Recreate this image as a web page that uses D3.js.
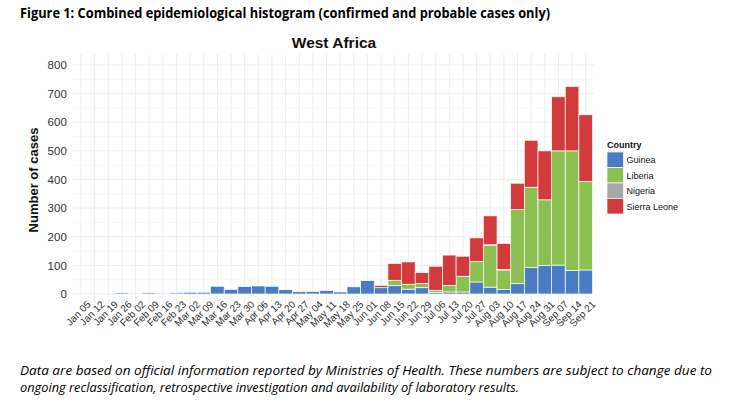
<!DOCTYPE html>
<html><head><meta charset="utf-8">
<script src="https://cdn.jsdelivr.net/npm/d3@7"></script>
<style>
html,body{margin:0;padding:0;background:#fff;}
svg{display:block;}
</style></head>
<body>
<svg id="chart" width="733" height="402"></svg>
<script>
const weeks = ["Jan 05","Jan 12","Jan 19","Jan 26","Feb 02","Feb 09","Feb 16","Feb 23","Mar 02","Mar 09","Mar 16","Mar 23","Mar 30","Apr 06","Apr 13","Apr 20","Apr 27","May 04","May 11","May 18","May 25","Jun 01","Jun 08","Jun 15","Jun 22","Jun 29","Jul 06","Jul 13","Jul 20","Jul 27","Aug 03","Aug 10","Aug 17","Aug 24","Aug 31","Sep 07","Sep 14","Sep 21"];
const countries = ["Guinea","Liberia","Nigeria","Sierra Leone"];
const guinea      = [1,1,0,4,3,4,3,4,6,6,27,16,26,28,27,15,8,9,12,7,25,47,22,29,17,22,5,7,7,42,24,16,36,92,99,101,82,84];
const liberia     = [0,0,0,0,0,0,0,0,0,0,0,0,0,0,0,0,0,0,0,0,0,2,0,19,17,15,8,23,54,72,147,68,259,281,230,399,418,309];
const nigeria     = [0,0,0,0,0,0,0,0,0,0,0,0,0,0,0,0,0,0,0,0,0,0,0,0,0,0,0,0,1,0,1,2,0,0,0,0,0,0];
const sierraLeone = [0,0,0,0,0,0,0,0,0,0,0,0,0,0,0,0,0,0,0,0,0,0,8,59,78,38,84,106,70,82,101,91,92,164,171,189,225,233];
const yTicks = [0,100,200,300,400,500,600,700,800];
const colors = ["#4a7cc4","#8cc152","#a8a8a8","#d33a3c"];

const rows = weeks.map((w,i)=>({week:w,"Guinea":guinea[i],"Liberia":liberia[i],"Nigeria":nigeria[i],"Sierra Leone":sierraLeone[i]}));

const svg = d3.select("#chart");
const panel = {left:72.8, right:593.9, top:54, bottom:305.5};

const x = d3.scaleBand().domain(weeks).range([panel.left,panel.right]).paddingInner(0).paddingOuter(0.1);
const y = d3.scaleLinear().domain([0,800]).range([294,65]);
const color = d3.scaleOrdinal().domain(countries).range(colors);

// gridlines
const g = svg.append("g");
d3.range(50,800,100).forEach(v=>{
  g.append("line").attr("x1",panel.left).attr("x2",panel.right).attr("y1",y(v)).attr("y2",y(v))
   .attr("stroke","#f3f3f3").attr("stroke-width",0.6);
});
yTicks.forEach(v=>{
  g.append("line").attr("x1",panel.left).attr("x2",panel.right).attr("y1",y(v)).attr("y2",y(v))
   .attr("stroke","#e8e8e8").attr("stroke-width",0.8);
});
weeks.forEach(w=>{
  const cx = x(w)+x.bandwidth()/2;
  g.append("line").attr("x1",cx).attr("x2",cx).attr("y1",panel.top).attr("y2",panel.bottom)
   .attr("stroke","#e8e8e8").attr("stroke-width",0.8);
});

// stacked bars
const stack = d3.stack().keys(countries)(rows);
svg.append("g").selectAll("g").data(stack).join("g")
  .attr("fill",d=>color(d.key))
  .selectAll("rect").data(d=>d).join("rect")
  .attr("x",d=>x(d.data.week))
  .attr("width",x.bandwidth())
  .attr("y",d=>y(d[1]))
  .attr("height",d=>Math.max(0,y(d[0])-y(d[1])))
  .attr("stroke","#ffffff").attr("stroke-width",0.7);

// y axis
const yAxis = svg.append("g").attr("transform",`translate(${panel.left},0)`)
  .call(d3.axisLeft(y).tickValues(yTicks).tickSize(0).tickPadding(6));
yAxis.select(".domain").remove();
yAxis.selectAll("text").attr("font-family","Liberation Sans, Arial, sans-serif").attr("font-size",11.5).attr("fill","#333");

// x axis
const xAxis = svg.append("g").attr("transform",`translate(0,${panel.bottom})`)
  .call(d3.axisBottom(x).tickSize(0).tickPadding(0));
xAxis.select(".domain").remove();
xAxis.selectAll("text")
  .attr("font-family","Liberation Sans, Arial, sans-serif").attr("font-size",10).attr("fill","#333")
  .attr("text-anchor","end")
  .attr("transform","translate(8,-3) rotate(-45)")
  .attr("dy","0.35em").attr("y",0).attr("x",0);

// y label
svg.append("text").attr("transform","translate(38,180) rotate(-90)")
  .attr("text-anchor","middle").attr("font-family","Liberation Sans, Arial, sans-serif")
  .attr("font-weight","bold").attr("font-size",13).attr("fill","#111").text("Number of cases");

// chart title
svg.append("text").attr("x",334).attr("y",48).attr("text-anchor","middle")
  .attr("font-family","Liberation Sans, Arial, sans-serif").attr("font-weight","bold")
  .attr("font-size",15.5).attr("fill","#111").text("West Africa");

// figure title
svg.append("text").attr("x",20).attr("y",18)
  .attr("font-family","Liberation Sans Narrow, Arial Narrow, Open Sans, sans-serif").attr("font-weight","bold")
  .attr("font-size",14).attr("fill","#000")
  .attr("textLength",530).attr("lengthAdjust","spacingAndGlyphs")
  .text("Figure 1: Combined epidemiological histogram (confirmed and probable cases only)");

// legend
const lg = svg.append("g").attr("transform","translate(607,0)");
lg.append("text").attr("x",0).attr("y",148).attr("font-family","Liberation Sans, Arial, sans-serif")
  .attr("font-weight","bold").attr("font-size",9).attr("fill","#111").text("Country");
countries.forEach((c,i)=>{
  lg.append("rect").attr("x",0).attr("y",152+i*15.5).attr("width",16.5).attr("height",15.5)
    .attr("fill",color(c)).attr("stroke","#ffffff").attr("stroke-width",0.7);
  lg.append("text").attr("x",19.5).attr("y",152+i*15.5+11).attr("font-family","Liberation Sans, Arial, sans-serif")
    .attr("font-size",9).attr("fill","#111").text(c);
});

// footnote
const fn = svg.append("g").attr("font-family","Liberation Sans Narrow, Arial Narrow, Open Sans, sans-serif")
  .attr("font-style","italic").attr("font-size",13).attr("fill","#000");
fn.append("text").attr("x",20).attr("y",375).attr("textLength",692).attr("lengthAdjust","spacingAndGlyphs")
  .text("Data are based on official information reported by Ministries of Health. These numbers are subject to change due to");
fn.append("text").attr("x",20).attr("y",392).attr("textLength",499).attr("lengthAdjust","spacingAndGlyphs")
  .text("ongoing reclassification, retrospective investigation and availability of laboratory results.");
</script>
</body></html>
